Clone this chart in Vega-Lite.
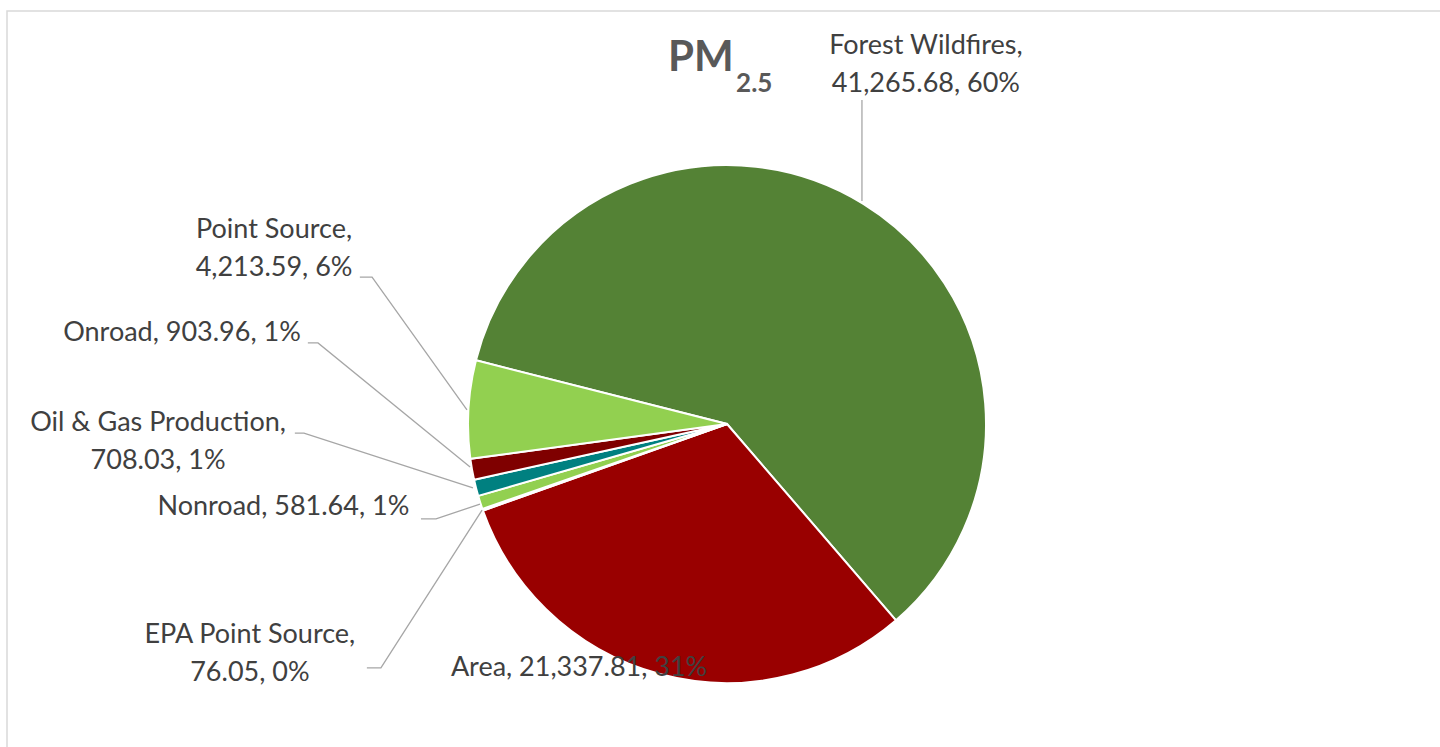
{
  "$schema": "https://vega.github.io/schema/vega-lite/v6.json",
  "width": 1440,
  "height": 747,
  "padding": {"left": 7, "top": 11, "right": 0, "bottom": 0},
  "autosize": {"type": "pad"},
  "background": "white",
  "config": {"view": {"stroke": "#D9D9D9", "strokeWidth": 1.5}, "font": "Lato"},
  "datasets": {
    "slices": [
      {"category": "Forest Wildfires", "value": 41265.68, "rank": 1},
      {"category": "Area", "value": 21337.81, "rank": 2},
      {"category": "EPA Point Source", "value": 76.05, "rank": 3},
      {"category": "Nonroad", "value": 581.64, "rank": 4},
      {"category": "Oil & Gas Production", "value": 708.03, "rank": 5},
      {"category": "Onroad", "value": 903.96, "rank": 6},
      {"category": "Point Source", "value": 4213.59, "rank": 7}
    ],
    "labels": [
      {"label": "Forest Wildfires,\n41,265.68, 60%", "lx": 0.765, "ly": 1.454},
      {"label": "Area, 21,337.81, 31%", "lx": -0.569, "ly": -0.938},
      {"label": "EPA Point Source,\n76.05, 0%", "lx": -1.835, "ly": -0.812},
      {"label": "Nonroad,  581.64, 1%", "lx": -1.706, "ly": -0.319},
      {"label": "Oil & Gas Production,\n708.03, 1%", "lx": -2.188, "ly": 0.004},
      {"label": "Onroad, 903.96, 1%", "lx": -2.096, "ly": 0.35},
      {"label": "Point Source,\n4,213.59, 6%", "lx": -1.742, "ly": 0.746}
    ],
    "leaders": [
      {"seg": "Forest Wildfires", "i": 1, "lx": 0.519, "ly": 1.246},
      {"seg": "Forest Wildfires", "i": 2, "lx": 0.519, "ly": 0.858},
      {"seg": "Point Source", "i": 1, "lx": -1.412, "ly": 0.565},
      {"seg": "Point Source", "i": 2, "lx": -1.365, "ly": 0.565},
      {"seg": "Point Source", "i": 3, "lx": -1.0, "ly": 0.054},
      {"seg": "Onroad", "i": 1, "lx": -1.612, "ly": 0.312},
      {"seg": "Onroad", "i": 2, "lx": -1.573, "ly": 0.312},
      {"seg": "Onroad", "i": 3, "lx": -0.988, "ly": -0.165},
      {"seg": "Oil & Gas Production", "i": 1, "lx": -1.662, "ly": -0.035},
      {"seg": "Oil & Gas Production", "i": 2, "lx": -1.627, "ly": -0.035},
      {"seg": "Oil & Gas Production", "i": 3, "lx": -0.977, "ly": -0.246},
      {"seg": "Nonroad", "i": 1, "lx": -1.177, "ly": -0.365},
      {"seg": "Nonroad", "i": 2, "lx": -1.119, "ly": -0.365},
      {"seg": "Nonroad", "i": 3, "lx": -0.95, "ly": -0.308},
      {"seg": "EPA Point Source", "i": 1, "lx": -1.385, "ly": -0.938},
      {"seg": "EPA Point Source", "i": 2, "lx": -1.331, "ly": -0.938},
      {"seg": "EPA Point Source", "i": 3, "lx": -0.942, "ly": -0.331}
    ]
  },
  "layer": [
    {
      "data": {"name": "slices"},
      "mark": {"type": "arc", "outerRadius": 259, "stroke": "white", "strokeWidth": 2},
      "encoding": {
        "x": {"datum": 0, "type": "quantitative", "scale": {"domain": [-2.769, 2.769], "nice": false, "zero": false}, "axis": null},
        "y": {"datum": 0, "type": "quantitative", "scale": {"domain": [-1.2846, 1.5885], "nice": false, "zero": false}, "axis": null},
        "theta": {"field": "value", "type": "quantitative", "stack": true, "scale": {"range": [4.961, 11.2442]}},
        "order": {"field": "rank", "type": "quantitative"},
        "color": {
          "field": "category",
          "type": "nominal",
          "legend": null,
          "scale": {
            "domain": ["Forest Wildfires", "Area", "EPA Point Source", "Nonroad", "Oil & Gas Production", "Onroad", "Point Source"],
            "range": ["#548235", "#990000", "#C55A11", "#92D050", "#008080", "#7F0000", "#92D050"]
          }
        }
      }
    },
    {
      "data": {"name": "leaders"},
      "mark": {"type": "line", "color": "#A6A6A6", "strokeWidth": 1.3},
      "encoding": {
        "x": {"field": "lx", "type": "quantitative", "scale": {"domain": [-2.769, 2.769], "nice": false, "zero": false}, "axis": null},
        "y": {"field": "ly", "type": "quantitative", "scale": {"domain": [-1.2846, 1.5885], "nice": false, "zero": false}, "axis": null},
        "detail": {"field": "seg", "type": "nominal"},
        "order": {"field": "i", "type": "quantitative"}
      }
    },
    {
      "data": {"name": "labels"},
      "mark": {"type": "text", "fontSize": 27, "color": "#404040", "align": "center", "baseline": "middle", "lineBreak": "\n", "lineHeight": 38},
      "encoding": {
        "x": {"field": "lx", "type": "quantitative", "scale": {"domain": [-2.769, 2.769], "nice": false, "zero": false}, "axis": null},
        "y": {"field": "ly", "type": "quantitative", "scale": {"domain": [-1.2846, 1.5885], "nice": false, "zero": false}, "axis": null},
        "text": {"field": "label", "type": "nominal"}
      }
    },
    {
      "data": {"values": [{"t": "PM"}]},
      "mark": {"type": "text", "fontSize": 42, "fontWeight": "bold", "color": "#595959", "align": "left", "baseline": "alphabetic"},
      "encoding": {
        "x": {"datum": -0.227, "type": "quantitative", "scale": {"domain": [-2.769, 2.769], "nice": false, "zero": false}, "axis": null},
        "y": {"datum": 1.358, "type": "quantitative", "scale": {"domain": [-1.2846, 1.5885], "nice": false, "zero": false}, "axis": null},
        "text": {"field": "t", "type": "nominal"}
      }
    },
    {
      "data": {"values": [{"t": "2.5"}]},
      "mark": {"type": "text", "fontSize": 26, "fontWeight": "bold", "color": "#595959", "align": "left", "baseline": "alphabetic"},
      "encoding": {
        "x": {"datum": 0.035, "type": "quantitative", "scale": {"domain": [-2.769, 2.769], "nice": false, "zero": false}, "axis": null},
        "y": {"datum": 1.277, "type": "quantitative", "scale": {"domain": [-1.2846, 1.5885], "nice": false, "zero": false}, "axis": null},
        "text": {"field": "t", "type": "nominal"}
      }
    }
  ]
}
